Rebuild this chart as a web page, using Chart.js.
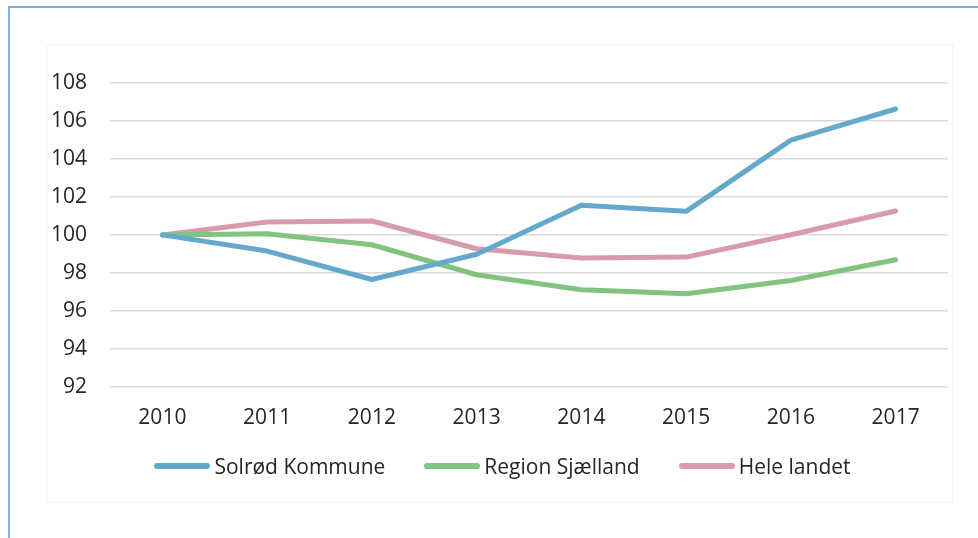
<!DOCTYPE html>
<html>
<head>
<meta charset="utf-8">
<script src="https://cdn.jsdelivr.net/npm/chart.js@4"></script>
<style>
  html, body { margin: 0; padding: 0; background: #fff; overflow: hidden; }
  body { width: 978px; height: 538px; position: relative; font-family: "Open Sans", sans-serif; }
  .frame { position: absolute; left: 8px; top: 6px; width: 1000px; height: 600px;
           border-left: 2px solid #7fb2d6; border-top: 2px solid #7fb2d6; }
  .box { position: absolute; left: 47px; top: 45px; width: 905px; height: 457px;
         outline: 1px solid #f4f4f4; }
  .box canvas { position: absolute; left: 0; top: 0; }
  #legend { position: absolute; left: 3px; width: 905px; top: 408px; height: 26px;
            display: flex; justify-content: center; align-items: center; gap: 39px;
            font-size: 21px; line-height: 26px; color: #262626; }
  #legend .item { display: flex; align-items: center; white-space: nowrap; }
  #legend .swatch { display: inline-block; width: 56px; height: 6px; border-radius: 3px; margin-right: 4px; }
</style>
</head>
<body>
<div class="frame"></div>
<div class="box"><canvas id="chart"></canvas><div id="legend"></div></div>
<script>
const years = ['2010', '2011', '2012', '2013', '2014', '2015', '2016', '2017'];
const solrod = [100, 99.15, 97.65, 98.98, 101.56, 101.24, 104.99, 106.63];
const regionSjaelland = [100, 100.06, 99.48, 97.9, 97.11, 96.9, 97.6, 98.69];
const heleLandet = [100, 100.68, 100.73, 99.27, 98.78, 98.83, 100.01, 101.26];
const yTicks = [92, 94, 96, 98, 100, 102, 104, 106, 108];

Chart.defaults.font.family = '"Open Sans", sans-serif';
Chart.defaults.font.size = 21;
Chart.defaults.color = '#262626';

function line(label, data, color) {
  return { label, data, borderColor: color, backgroundColor: color, borderWidth: 5,
           pointRadius: 0, tension: 0, fill: false, borderCapStyle: 'round', borderJoinStyle: 'round' };
}

const ctx = document.getElementById('chart').getContext('2d');
const chart = new Chart(ctx, {
  type: 'line',
  data: {
    labels: years,
    datasets: [
      line('Solrød Kommune', solrod, '#64a9cc'),
      line('Region Sjælland', regionSjaelland, '#80c47f'),
      line('Hele landet', heleLandet, '#d79bab'),
    ],
  },
  options: {
    responsive: true,
    maintainAspectRatio: false,
    animation: false,
    layout: { padding: { top: 38, right: 4, bottom: 52, left: 0 } },
    plugins: {
      tooltip: { enabled: false },
      legend: { display: false },
    },
    scales: {
      x: {
        offset: true,
        grid: { display: false, drawTicks: false },
        border: { display: false },
        ticks: { padding: 19, maxRotation: 0 },
      },
      y: {
        min: 92, max: 108,
        afterFit: s => { s.width = 63; },
        afterBuildTicks: s => { s.ticks = yTicks.map(v => ({ value: v })); },
        grid: { color: '#d9d9d9', lineWidth: 1.5, drawTicks: false },
        border: { display: false },
        ticks: { padding: 23 },
      },
    },
  },
});

// legend built from the chart's datasets
const legendEl = document.getElementById('legend');
chart.data.datasets.forEach(ds => {
  const item = document.createElement('span');
  item.className = 'item';
  const sw = document.createElement('span');
  sw.className = 'swatch';
  sw.style.background = ds.borderColor;
  item.appendChild(sw);
  item.appendChild(document.createTextNode(ds.label));
  legendEl.appendChild(item);
});
</script>
</body>
</html>
